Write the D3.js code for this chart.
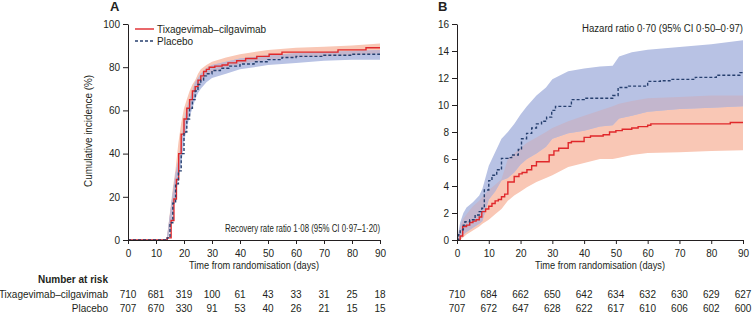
<!DOCTYPE html>
<html>
<head>
<meta charset="utf-8">
<script src="https://cdn.jsdelivr.net/npm/d3@7"></script>
<style>
  body { margin: 0; background: #fff; }
  svg text { font-family: "Liberation Sans", Arial, sans-serif; fill: #231f20; }
  .axis path, .axis line { stroke: #231f20; }
</style>
</head>
<body>
<div class="chart"></div>
<script>
let w = 753, h = 313;

// ---- panel A: time to recovery ----
let daysTixA = [0, 14, 15.4, 16.4, 17.3, 18.1, 19, 20, 21, 22, 23, 24, 25, 26, 27, 28, 29, 31, 33.6, 35.7, 38.8, 42, 46, 50.4, 55, 75, 85, 90];
let tixA = [0, 1, 9, 19, 28, 40, 49, 56, 61, 65, 69, 71, 74, 76, 78, 79, 80, 80.5, 81, 82, 83, 84, 85, 86, 87, 88, 89, 89];
let daysPlaA = [0, 14, 15, 16, 17, 18, 19, 20, 21, 22, 23, 24, 25, 26, 27, 28, 30, 33, 36, 40, 45, 50, 55, 60, 70, 80, 90];
let plaA = [0, 1, 8, 17, 26, 32, 40, 50, 56, 61, 65, 69, 72, 74, 76, 77, 78.5, 79.5, 80.5, 81.5, 82.5, 83.5, 84.5, 85, 85.5, 86, 86];
let bandDaysA = [14, 15, 16, 17, 18, 19, 20, 21, 22, 23, 24, 25, 26, 28, 30, 35, 40, 50, 60, 70, 80, 90];
let tixLoA = [0, 5, 14, 23, 34, 43, 51, 57, 61, 65, 68, 71, 73, 76, 77.5, 80, 81.5, 83.5, 84.5, 85, 85.5, 86.5];
let tixHiA = [2, 13, 24, 33, 45, 54, 61, 65, 69, 72, 74, 77, 79, 81, 82.5, 84.5, 86, 88, 89, 89.5, 90, 91];
let plaLoA = [0, 4, 12, 21, 28, 35, 45, 52, 57, 61, 65, 68, 70, 73, 75, 77, 79, 81, 82, 83, 83.5, 83.5];
let plaHiA = [2, 12, 22, 31, 37, 45, 55, 61, 65, 69, 73, 75, 77, 79.5, 81, 82.5, 84, 85.5, 86.5, 87, 87.5, 88];

// ---- panel B: hospitalisation or death ----
let daysTixB = [0, 1, 1.8, 3, 4, 5, 6, 7, 7.8, 9, 10, 11, 12, 13, 14, 15, 16, 18, 19.5, 20.5, 22, 23.5, 25, 29, 30.5, 32, 35, 36, 40, 42, 46, 48, 50, 52, 55, 57, 60, 61, 86, 90];
let tixB = [0, 0.3, 1.0, 1.1, 1.3, 1.4, 1.5, 1.7, 2.1, 2.3, 2.5, 2.7, 2.9, 3.0, 3.2, 3.4, 4.3, 4.7, 4.9, 5.0, 5.2, 5.5, 5.8, 6.3, 6.6, 6.8, 7.2, 7.3, 7.6, 7.7, 7.8, 8.0, 8.1, 8.2, 8.3, 8.4, 8.5, 8.6, 8.7, 8.7];
let daysPlaB = [0, 0.5, 1, 2, 2.5, 4, 5.7, 7, 7.8, 8.6, 10, 11, 12.5, 14, 16, 17.2, 19.3, 20.3, 21.9, 23.5, 25, 26.6, 28.2, 29.8, 31, 36, 40, 49, 50.7, 54, 60, 64, 67, 75, 81.6, 89, 90];
let plaB = [0, 0.4, 0.75, 1.1, 1.35, 1.5, 1.85, 2.1, 2.35, 3.7, 4.4, 4.8, 5.2, 6.05, 6.1, 6.3, 6.7, 7.5, 7.9, 8.3, 8.6, 8.8, 9.1, 9.6, 9.9, 10.4, 10.5, 10.7, 11.3, 11.4, 11.75, 11.8, 11.9, 12.05, 12.2, 12.4, 12.4];
let bandDaysB = [0, 1, 2, 3, 5, 7, 8, 10, 12, 14, 16, 18, 20, 22, 25, 28, 30, 35, 40, 45, 49, 51, 55, 60, 70, 80, 90];
let tixLoB = [0, 0, 0.2, 0.4, 0.7, 1.0, 1.2, 1.5, 1.9, 2.3, 2.9, 3.3, 3.6, 3.9, 4.3, 4.6, 4.8, 5.4, 5.7, 6.0, 6.0, 6.1, 6.3, 6.45, 6.5, 6.6, 6.65];
let tixHiB = [0, 1.0, 1.6, 1.9, 2.5, 2.9, 3.2, 3.7, 4.1, 4.5, 6.0, 6.4, 6.8, 7.2, 7.6, 8.0, 8.3, 8.8, 9.2, 9.6, 9.9, 10.1, 10.3, 10.5, 10.6, 10.7, 10.7];
let plaLoB = [0, 0.1, 0.4, 0.6, 0.9, 1.2, 1.4, 3.0, 3.6, 4.4, 4.6, 5.0, 5.6, 6.0, 6.4, 6.9, 7.5, 7.9, 8.1, 8.4, 8.5, 9.0, 9.2, 9.5, 9.7, 9.8, 9.9];
let plaHiB = [0, 1.3, 2.0, 2.4, 2.8, 3.3, 3.8, 5.5, 6.5, 7.5, 8.0, 8.6, 9.3, 9.9, 10.7, 11.3, 11.9, 12.5, 12.7, 12.85, 12.9, 13.6, 13.9, 14.1, 14.3, 14.5, 14.8];

// ---- number at risk ----
let riskDays = [0, 10, 20, 30, 40, 50, 60, 70, 80, 90];
let riskTixA = [710, 681, 319, 100, 61, 43, 33, 31, 25, 18];
let riskPlaA = [707, 670, 330, 91, 53, 40, 26, 21, 15, 15];
let riskTixB = [710, 684, 662, 650, 642, 634, 632, 630, 629, 627];
let riskPlaB = [707, 672, 647, 628, 622, 617, 610, 606, 602, 600];

let ticksA = [0, 20, 40, 60, 80, 100];
let ticksB = [0, 2, 4, 6, 8, 10, 12, 14, 16];

let red = '#e0282b', navy = '#27406f';
let fs = 10;

let svg = d3.select('.chart').append('svg').attr('width', w).attr('height', h);

function zip(days, vals) {
    return days.map(function (d, i) { return {x: d, y: vals[i]}; });
}
function zipBand(days, lo, hi) {
    return days.map(function (d, i) { return {x: d, lo: lo[i], hi: hi[i]}; });
}

function panel(opt) {
    let xScale = d3.scaleLinear().domain([0, 90]).range([opt.x0, opt.x1]);
    let yScale = d3.scaleLinear().domain([0, opt.ymax]).range([240, 24]);

    /* ==== CONFIDENCE BANDS ===== */
    let area = d3.area()
        .x(function (d) { return xScale(d.x); })
        .y0(function (d) { return yScale(d.lo); })
        .y1(function (d) { return yScale(d.hi); });

    let tixBand = zipBand(opt.bandDays, opt.tixLo, opt.tixHi);
    let plaBand = zipBand(opt.bandDays, opt.plaLo, opt.plaHi);
    // overlap of the two bands drawn on its own in the mixed colour
    let overlap = tixBand.map(function (d, i) {
        let lo = Math.max(d.lo, plaBand[i].lo), hi = Math.min(d.hi, plaBand[i].hi);
        return {x: d.x, lo: lo, hi: Math.max(lo, hi)};
    });

    svg.append('path').datum(tixBand).attr('d', area).attr('fill', '#f9c7b5');
    svg.append('path').datum(plaBand).attr('d', area).attr('fill', '#b8c2e4');
    svg.append('path').datum(overlap).attr('d', area).attr('fill', '#c3b6cd');

    /* ==== STEP LINES ===== */
    let line = d3.line()
        .curve(d3.curveStepAfter)
        .x(function (d) { return xScale(d.x); })
        .y(function (d) { return yScale(d.y); });

    svg.append('path')
        .datum(zip(opt.daysTix, opt.tix))
        .attr('d', line)
        .attr('fill', 'none')
        .attr('stroke', red)
        .attr('stroke-width', 1.4);

    svg.append('path')
        .datum(zip(opt.daysPla, opt.pla))
        .attr('d', line)
        .attr('fill', 'none')
        .attr('stroke', navy)
        .attr('stroke-width', 1.4)
        .attr('stroke-dasharray', '3,2');

    /* ==== AXES ===== */
    let xAxis = d3.axisBottom(xScale).tickValues(riskDays).tickSize(4).tickSizeOuter(0);
    let yAxis = d3.axisLeft(yScale).tickValues(opt.yTicks).tickSize(5).tickSizeOuter(0);

    svg.append('g')
        .attr('class', 'axis x')
        .attr('transform', 'translate(0,240)')
        .call(xAxis)
        .call(function (g) { g.selectAll('text').attr('font-size', fs).attr('dy', null).attr('y', 17); });

    svg.append('g')
        .attr('class', 'axis y')
        .attr('transform', 'translate(' + opt.x0 + ',0)')
        .call(yAxis)
        .call(function (g) { g.selectAll('text').attr('font-size', fs).attr('x', -8); });

    svg.selectAll('.axis text').style('fill', '#231f20');

    svg.append('text')
        .text('Time from randomisation (days)')
        .attr('x', (opt.x0 + opt.x1) / 2)
        .attr('y', 269)
        .attr('text-anchor', 'middle')
        .attr('font-size', fs)
        .attr('textLength', 130)
        .attr('lengthAdjust', 'spacingAndGlyphs');

    svg.append('text')
        .text(opt.label)
        .attr('x', opt.labelX)
        .attr('y', 11)
        .attr('font-size', 13)
        .attr('font-weight', 'bold');

    svg.append('text')
        .text(opt.note)
        .attr('x', opt.x1)
        .attr('y', opt.noteY)
        .attr('text-anchor', 'end')
        .attr('font-size', fs)
        .attr('textLength', opt.noteLen)
        .attr('lengthAdjust', 'spacingAndGlyphs');

    // number at risk rows under the ticks
    [[opt.riskTix, 297.5], [opt.riskPla, 311.5]].forEach(function (row) {
        svg.append('g').selectAll('text')
            .data(row[0])
            .join('text')
            .text(function (d) { return d; })
            .attr('x', function (d, i) { return xScale(riskDays[i]); })
            .attr('y', row[1])
            .attr('text-anchor', 'middle')
            .attr('font-size', fs);
    });
}

panel({
    x0: 128, x1: 380, ymax: 100, yTicks: ticksA,
    daysTix: daysTixA, tix: tixA, daysPla: daysPlaA, pla: plaA,
    bandDays: bandDaysA, tixLo: tixLoA, tixHi: tixHiA, plaLo: plaLoA, plaHi: plaHiA,
    riskTix: riskTixA, riskPla: riskPlaA,
    label: 'A', labelX: 110,
    note: 'Recovery rate ratio 1·08 (95% CI 0·97–1·20)', noteY: 232, noteLen: 155
});

panel({
    x0: 457, x1: 743, ymax: 16, yTicks: ticksB,
    daysTix: daysTixB, tix: tixB, daysPla: daysPlaB, pla: plaB,
    bandDays: bandDaysB, tixLo: tixLoB, tixHi: tixHiB, plaLo: plaLoB, plaHi: plaHiB,
    riskTix: riskTixB, riskPla: riskPlaB,
    label: 'B', labelX: 438,
    note: 'Hazard ratio 0·70 (95% CI 0·50–0·97)', noteY: 32, noteLen: 161
});

/* ===== Y TITLE, LEGEND, RISK LABELS ===== */

svg.append('text')
    .text('Cumulative incidence (%)')
    .attr('transform', 'translate(92,131) rotate(-90)')
    .attr('text-anchor', 'middle')
    .attr('font-size', fs)
    .attr('textLength', 112)
    .attr('lengthAdjust', 'spacingAndGlyphs');

svg.append('line')
    .attr('x1', 135).attr('x2', 154).attr('y1', 29).attr('y2', 29)
    .attr('stroke', red).attr('stroke-width', 1.4);
svg.append('text')
    .text('Tixagevimab–cilgavimab')
    .attr('x', 157).attr('y', 33)
    .attr('font-size', fs);

svg.append('line')
    .attr('x1', 135).attr('x2', 154).attr('y1', 41).attr('y2', 41)
    .attr('stroke', navy).attr('stroke-width', 1.4).attr('stroke-dasharray', '3,2');
svg.append('text')
    .text('Placebo')
    .attr('x', 157).attr('y', 45)
    .attr('font-size', fs);

svg.append('text')
    .text('Number at risk')
    .attr('x', 108).attr('y', 283)
    .attr('text-anchor', 'end')
    .attr('font-weight', 'bold')
    .attr('font-size', fs);
svg.append('text')
    .text('Tixagevimab–cilgavimab')
    .attr('x', 108).attr('y', 297.5)
    .attr('text-anchor', 'end')
    .attr('font-size', fs);
svg.append('text')
    .text('Placebo')
    .attr('x', 108).attr('y', 311.5)
    .attr('text-anchor', 'end')
    .attr('font-size', fs);
</script>
</body>
</html>
